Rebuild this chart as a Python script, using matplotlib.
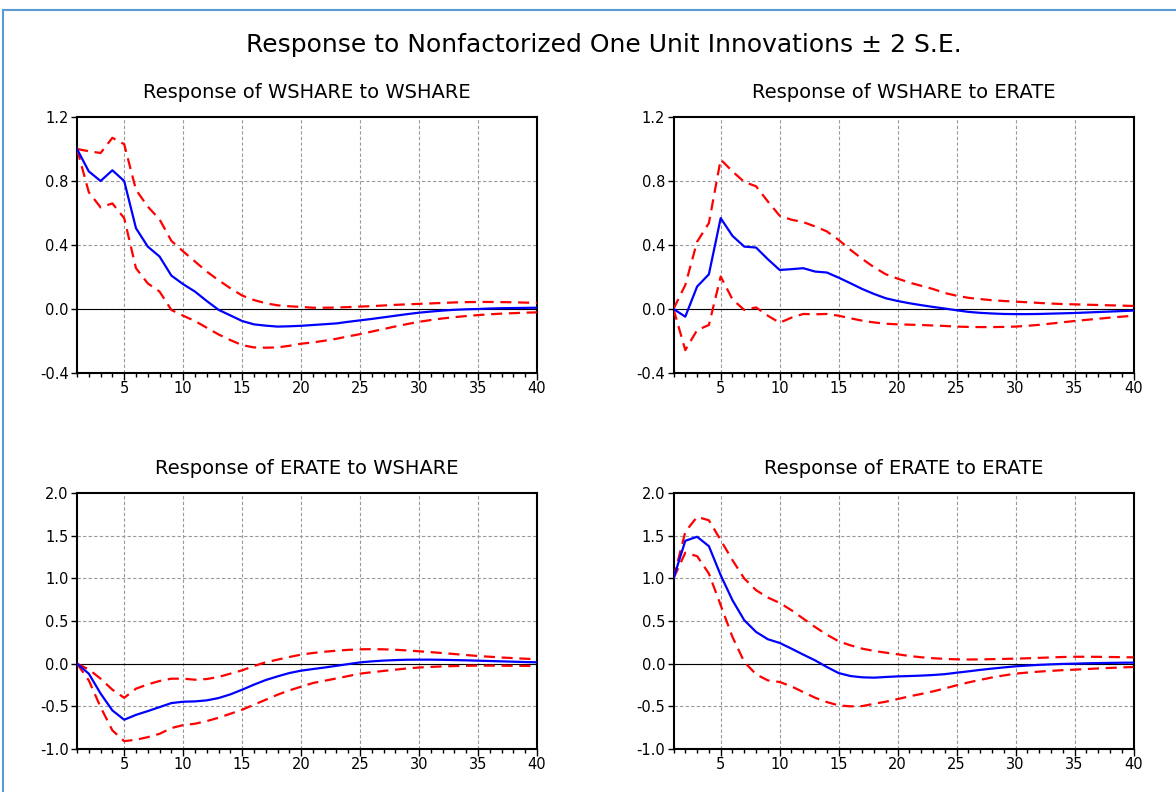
import matplotlib
matplotlib.use("Agg")
import matplotlib.pyplot as plt
from matplotlib.ticker import MultipleLocator
from matplotlib.lines import Line2D

periods = list(range(1, 41))

# Response of WSHARE to WSHARE
ww_resp = [1.0, 0.86, 0.80, 0.867, 0.80, 0.505, 0.39, 0.328, 0.209, 0.155,
           0.109, 0.05, -0.005, -0.04, -0.075, -0.096, -0.104, -0.11, -0.108, -0.105,
           -0.10, -0.095, -0.09, -0.08, -0.071, -0.062, -0.052, -0.042, -0.032, -0.023,
           -0.016, -0.01, -0.005, -0.002, 0.0, 0.003, 0.005, 0.006, 0.007, 0.008]
ww_up = [1.0, 0.986, 0.975, 1.07, 1.03, 0.745, 0.64, 0.56, 0.426, 0.36,
         0.297, 0.234, 0.18, 0.13, 0.084, 0.056, 0.036, 0.023, 0.017, 0.013,
         0.008, 0.008, 0.009, 0.012, 0.015, 0.018, 0.022, 0.026, 0.029, 0.032,
         0.035, 0.038, 0.041, 0.043, 0.044, 0.044, 0.043, 0.042, 0.040, 0.038]
ww_lo = [1.0, 0.73, 0.635, 0.66, 0.568, 0.255, 0.16, 0.109, -0.006, -0.042,
         -0.075, -0.117, -0.159, -0.194, -0.226, -0.24, -0.242, -0.24, -0.23, -0.217,
         -0.209, -0.198, -0.186, -0.171, -0.157, -0.141, -0.125, -0.109, -0.094, -0.08,
         -0.069, -0.059, -0.051, -0.044, -0.038, -0.033, -0.029, -0.026, -0.023, -0.021]

# Response of WSHARE to ERATE
we_resp = [0.0, -0.048, 0.14, 0.217, 0.568, 0.457, 0.39, 0.384, 0.311, 0.244,
           0.249, 0.255, 0.234, 0.228, 0.196, 0.161, 0.125, 0.094, 0.067, 0.05,
           0.036, 0.024, 0.013, 0.003, -0.008, -0.018, -0.024, -0.028, -0.031, -0.032,
           -0.032, -0.031, -0.029, -0.027, -0.025, -0.022, -0.019, -0.016, -0.013, -0.010]
we_up = [0.0, 0.15, 0.42, 0.537, 0.934, 0.86, 0.794, 0.767, 0.672, 0.583,
         0.558, 0.543, 0.516, 0.485, 0.432, 0.37, 0.313, 0.261, 0.217, 0.19,
         0.165, 0.145, 0.125, 0.10, 0.083, 0.07, 0.062, 0.055, 0.05, 0.046,
         0.042, 0.038, 0.034, 0.031, 0.029, 0.027, 0.025, 0.023, 0.021, 0.019]
we_lo = [0.0, -0.257, -0.132, -0.10, 0.203, 0.06, -0.006, 0.01, -0.042, -0.086,
         -0.054, -0.031, -0.033, -0.031, -0.042, -0.058, -0.073, -0.084, -0.092, -0.096,
         -0.098, -0.10, -0.103, -0.106, -0.11, -0.112, -0.113, -0.113, -0.112, -0.11,
         -0.105, -0.099, -0.091, -0.083, -0.075, -0.068, -0.061, -0.054, -0.048, -0.042]

# Response of ERATE to WSHARE
ew_resp = [0.0, -0.117, -0.35, -0.548, -0.657, -0.60, -0.556, -0.509, -0.462, -0.446,
           -0.442, -0.43, -0.403, -0.36, -0.305, -0.246, -0.192, -0.149, -0.11, -0.082,
           -0.063, -0.045, -0.025, -0.005, 0.015, 0.027, 0.036, 0.042, 0.046, 0.047,
           0.047, 0.045, 0.042, 0.039, 0.035, 0.031, 0.027, 0.023, 0.019, 0.016]
ew_up = [0.0, -0.067, -0.176, -0.305, -0.40, -0.293, -0.243, -0.203, -0.176, -0.176,
         -0.188, -0.18, -0.156, -0.117, -0.078, -0.027, 0.016, 0.047, 0.078, 0.106,
         0.125, 0.14, 0.152, 0.162, 0.168, 0.17, 0.168, 0.163, 0.155, 0.145,
         0.135, 0.124, 0.113, 0.101, 0.09, 0.081, 0.072, 0.065, 0.058, 0.051]
ew_lo = [0.0, -0.196, -0.509, -0.782, -0.908, -0.892, -0.861, -0.822, -0.755, -0.72,
         -0.704, -0.673, -0.634, -0.587, -0.54, -0.481, -0.423, -0.364, -0.313, -0.27,
         -0.227, -0.20, -0.173, -0.145, -0.117, -0.10, -0.085, -0.07, -0.056, -0.045,
         -0.038, -0.032, -0.028, -0.025, -0.023, -0.023, -0.024, -0.025, -0.026, -0.027]

# Response of ERATE to ERATE
ee_resp = [1.0, 1.44, 1.487, 1.377, 1.037, 0.743, 0.509, 0.372, 0.286, 0.243,
           0.176, 0.106, 0.039, -0.039, -0.11, -0.145, -0.16, -0.164, -0.156, -0.149,
           -0.145, -0.14, -0.133, -0.123, -0.106, -0.09, -0.073, -0.058, -0.044, -0.031,
           -0.022, -0.014, -0.008, -0.003, 0.0, 0.004, 0.007, 0.009, 0.011, 0.012]
ee_up = [1.0, 1.545, 1.72, 1.68, 1.448, 1.213, 0.998, 0.861, 0.775, 0.712,
         0.626, 0.528, 0.43, 0.34, 0.262, 0.215, 0.176, 0.149, 0.129, 0.11,
         0.09, 0.075, 0.064, 0.056, 0.051, 0.049, 0.05, 0.053, 0.056, 0.059,
         0.063, 0.068, 0.073, 0.078, 0.081, 0.081, 0.08, 0.078, 0.076, 0.074]
ee_lo = [1.0, 1.30, 1.26, 1.056, 0.685, 0.313, 0.02, -0.125, -0.196, -0.215,
         -0.266, -0.333, -0.399, -0.45, -0.489, -0.50, -0.497, -0.47, -0.446, -0.415,
         -0.383, -0.355, -0.325, -0.29, -0.254, -0.22, -0.19, -0.162, -0.138, -0.117,
         -0.104, -0.093, -0.084, -0.076, -0.07, -0.063, -0.056, -0.05, -0.044, -0.039]

titles = ["Response of WSHARE to WSHARE", "Response of WSHARE to ERATE",
          "Response of ERATE to WSHARE", "Response of ERATE to ERATE"]
top_yticks = [-0.4, 0.0, 0.4, 0.8, 1.2]
bot_yticks = [-1.0, -0.5, 0.0, 0.5, 1.0, 1.5, 2.0]
xticks = [5, 10, 15, 20, 25, 30, 35, 40]
main_title = "Response to Nonfactorized One Unit Innovations \u00b1 2 S.E."

plt.rcParams['font.family'] = ['DejaVu Sans']

W, H = 1176, 792
fig = plt.figure(figsize=(W / 100, H / 100), dpi=100)

def ax_rect(l, r, t, b):
    return [l / W, 1 - b / H, (r - l) / W, (b - t) / H]

rects = [ax_rect(77, 537, 117, 373), ax_rect(673.5, 1133.5, 117, 373),
         ax_rect(77, 537, 493, 749), ax_rect(673.5, 1133.5, 493, 749)]
data = [(ww_resp, ww_up, ww_lo), (we_resp, we_up, we_lo),
        (ew_resp, ew_up, ew_lo), (ee_resp, ee_up, ee_lo)]

for i, (rect, (resp, up, lo), title) in enumerate(zip(rects, data, titles)):
    ax = fig.add_axes(rect)
    yt = top_yticks if i < 2 else bot_yticks
    ax.set_xlim(1, 40)
    ax.set_ylim(yt[0], yt[-1])
    ax.set_yticks(yt)
    ax.set_yticklabels([f"{v:.1f}" for v in yt])
    ax.set_xticks(xticks)
    ax.set_xticklabels([str(v) for v in xticks])
    ax.xaxis.set_minor_locator(MultipleLocator(1))
    for v in xticks[:-1]:
        ax.axvline(v, color='#999999', lw=0.8, ls=(0, (3, 2)), zorder=1)
    for v in yt[1:-1]:
        ax.axhline(v, color='#999999', lw=0.8, ls=(0, (3, 2)), zorder=1)
    ax.axhline(0, color='black', lw=0.8, zorder=2)
    ax.plot(periods, up, color='#FF0000', lw=1.6, ls=(0, (5, 3)), zorder=3)
    ax.plot(periods, lo, color='#FF0000', lw=1.6, ls=(0, (5, 3)), zorder=3)
    ax.plot(periods, resp, color='#0000FF', lw=1.6, zorder=4)
    ax.set_title(title, fontsize=14, pad=14)
    ax.tick_params(axis='both', direction='out', labelsize=10.5, width=1, colors='black')
    ax.tick_params(axis='y', length=4, pad=2)
    ax.tick_params(axis='x', which='major', length=5, pad=1)
    ax.tick_params(axis='x', which='minor', length=3, width=1)
    for s in ax.spines.values():
        s.set_linewidth(1.5)
        s.set_color('black')

fig.text(604 / W, 1 - 45 / H, main_title, ha='center', va='center', fontsize=18)

# light blue frame
fig.add_artist(Line2D([3 / W, 3 / W], [0, 1 - 10 / H], transform=fig.transFigure,
                      color='#5B9BD5', lw=1.5))
fig.add_artist(Line2D([3 / W, 1], [1 - 10 / H, 1 - 10 / H], transform=fig.transFigure,
                      color='#5B9BD5', lw=1.5))

fig.savefig("out.png", dpi=100, facecolor='white')
